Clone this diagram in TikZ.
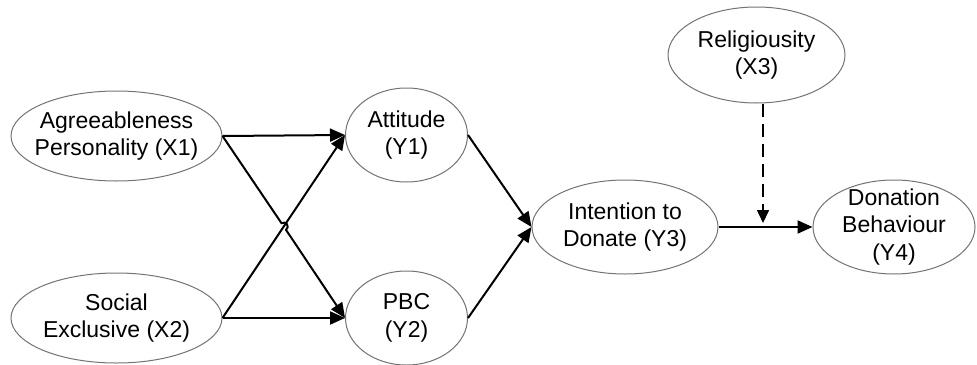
\documentclass[tikz,border=0pt]{standalone}
\usepackage{fontspec}
\setmainfont{Liberation Sans}
\usetikzlibrary{shapes.geometric,arrows.meta,calc}
\begin{document}
\begin{tikzpicture}[x=0.5pt,y=-0.5pt,
  var/.style={ellipse,draw=black!55,line width=0.5pt,inner sep=0pt},
  txt/.style={align=center,inner sep=0pt,font=\fontsize{11.5}{13.8}\selectfont},
  link/.style={line width=1pt,-{Triangle[length=7.5pt,width=6.5pt]}},
  modlink/.style={line width=0.8pt,dash pattern=on 6.5pt off 3.5pt,-{Triangle[length=6.5pt,width=6pt]}}]
\useasboundingbox (0,0) rectangle (977,364);
\node[var,minimum width=105.5pt,minimum height=45pt,label={[txt]center:Agreeableness\\Personality (X1)}] (x1) at (116.5,136) {};
\node[var,minimum width=105.5pt,minimum height=45pt,label={[txt]center:Social\\Exclusive (X2)}] (x2) at (116.5,318) {};
\node[var,minimum width=61pt,minimum height=47pt,label={[txt]center:Attitude\\(Y1)}] (y1) at (406.5,135) {};
\node[var,minimum width=61pt,minimum height=47pt,label={[txt]center:PBC\\(Y2)}] (y2) at (406.5,318) {};
\node[var,minimum width=93pt,minimum height=47pt,label={[txt]center:Intention to\\Donate (Y3)}] (y3) at (625,227) {};
\node[var,minimum width=81pt,minimum height=47pt,label={[txt]center:Donation\\Behaviour\\(Y4)}] (y4) at (894,227) {};
\node[var,minimum width=88.5pt,minimum height=48pt,label={[txt]center:Religiousity\\(X3)}] (x3) at (756.5,55) {};
% links
\draw[link] (x1.east) -- (y1.west);
\draw[link] (x2.east) -- (y2.west);
\draw[link] (x2.east) -- (y1.west);
\coordinate (cr) at ($(x2.east)!0.5!(y1.west)$);
\draw[link] (x1.east) -- ($(cr)!2pt!(x1.east)$) arc[start angle=124,end angle=-56,radius=2pt] -- (y2.west);
\draw[link] (y1.east) -- (y3.west);
\draw[link] (y2.east) -- (y3.west);
\draw[link] (y3.east) -- (y4.west);
\coordinate (mod) at (763,223);
\draw[modlink] (x3.south -| mod) -- (mod);
\end{tikzpicture}
\end{document}
